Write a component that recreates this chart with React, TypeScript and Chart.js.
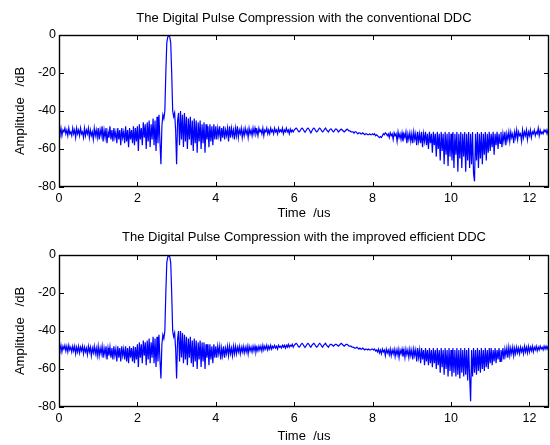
import React, { useEffect, useRef } from "react";
import { Chart, registerables } from "chart.js";

Chart.register(...registerables);

// sampling step of the traces (us)
const DT = 0.025;

const TITLE_TOP = "The Digital Pulse Compression with the conventional DDC";
const TITLE_BOTTOM = "The Digital Pulse Compression with the improved efficient DDC";
const X_LABEL = "Time  /us";
const Y_LABEL = "Amplitude   /dB";
const X_TICKS = [0, 2, 4, 6, 8, 10, 12];
const Y_TICKS = [0, -20, -40, -60, -80];

// amplitude (dB) of the conventional DDC output, one value every 0.025 us from 0 to 12.5 us
const conventional = [
  -50, -52, -49, -53, -50, -51, -49, -52, -50, -53, -49, -52, -51, -53, -49, -52, -50, -54, -49, -52,
  -50, -53, -49, -52, -51, -54, -49, -53, -50, -52, -49, -54, -50, -53, -51, -55, -49, -53, -50, -54,
  -49, -55, -50, -53, -48, -56, -50, -54, -49, -57, -51, -54, -48, -55, -50, -56, -49, -54, -51, -57,
  -49, -55, -50, -58, -49, -54, -51, -57, -48, -56, -50, -59, -49, -55, -50, -57, -48, -58, -49, -56,
  -48, -61, -47, -55, -49, -58, -46, -54, -47, -60, -46, -56, -45, -59, -47, -55, -44, -58, -45, -61,
  -43, -57, -42, -56, -68, -48, -42, -44, -40, -20, -4, -1, 0, -1, -4, -20, -40, -43, -41, -50,
  -68, -45, -41, -58, -40, -55, -42, -59, -41, -56, -43, -60, -44, -55, -43, -58, -45, -61, -44, -57,
  -45, -62, -46, -56, -45, -60, -47, -57, -46, -62, -47, -55, -48, -59, -47, -56, -48, -58, -47, -55,
  -48, -55, -49, -53, -48, -56, -49, -54, -48, -55, -50, -53, -49, -56, -48, -54, -49, -53, -50, -55,
  -49, -53, -48, -54, -50, -52, -49, -54, -50, -53, -49, -52, -50, -54, -49, -52, -50, -53, -49, -52,
  -49, -52, -50, -53, -49, -51, -50, -52, -49, -53, -50, -51, -49, -52, -50, -52, -49, -51, -50, -52,
  -49, -51, -50, -52, -49, -51, -50, -51, -49, -52, -50, -51, -49, -51, -50, -52, -49.5, -51, -50, -51,
  -50, -49.5, -49, -49.5, -50.5, -51, -50.5, -49.5, -49, -49.5, -50.5, -51, -50.5, -49.5, -49, -49.5, -50.5, -51.5, -50.5, -49.5,
  -49, -49.5, -50.5, -51, -50.5, -49.5, -49, -49.5, -50.5, -51, -50.5, -49.5, -49, -50, -50.5, -51, -50, -49.5, -49.5, -50.5,
  -51, -50.5, -49.5, -49.5, -50, -51, -50.5, -50, -49.5, -50, -50.5, -51, -50.5, -50, -49.5, -50, -50.5, -50.5, -51, -51,
  -51, -51.5, -51, -51, -51.5, -52, -51.5, -51.5, -52, -52, -51.5, -52, -52.5, -52, -52, -52.5, -52.5, -52, -52.5, -52.5,
  -52, -52.5, -52, -53, -52.5, -53, -53.5, -54, -53.5, -54, -53, -52, -52.5, -51.5, -52, -53, -52, -54, -51.5, -53,
  -52, -55, -51.5, -53, -52, -56, -51, -54, -52, -55, -51.5, -56, -52, -54, -51, -57, -52, -55, -51.5, -56,
  -52, -57, -51, -55, -52, -58, -51, -56, -52, -57, -51, -59, -52, -56, -51, -58, -52, -60, -51, -57,
  -52, -62, -51, -58, -52, -64, -51, -60, -52, -66, -51, -61, -52, -68, -51, -63, -52, -69, -51, -64,
  -52, -66, -51, -70, -52, -63, -51, -72, -52, -65, -51, -70, -52, -64, -51, -72, -52, -66, -51, -70,
  -52, -68, -51, -73, -77, -52, -66, -51, -70, -52, -65, -51, -68, -52, -63, -51, -66, -52, -62, -51,
  -61, -52, -59, -51, -63, -52, -58, -51, -60, -52, -57, -51, -59, -52, -56, -51, -58, -52, -55, -51,
  -56, -51, -54, -52, -57, -51, -54, -50, -55, -51, -53, -52, -56, -50, -54, -51, -53, -50, -55, -51,
  -53, -50, -54, -51, -52, -50, -53, -51, -52, -49, -53, -50, -52, -51, -52, -50, -51, -50, -52, -50,
  -51,
];

// amplitude (dB) of the improved efficient DDC output, same sampling
const improved = [
  -48, -50, -47.5, -51, -48, -49.5, -47.5, -50.5, -48, -51, -47.5, -50, -48.5, -51, -48, -50.5, -48, -52, -48.5, -51,
  -48, -51.5, -48.5, -50.5, -48, -52, -48.5, -51, -49, -52.5, -48, -51, -48.5, -53, -49, -51.5, -48, -52, -49, -53,
  -48, -53, -49, -52, -48, -54, -49, -52.5, -48, -55, -49, -53, -48.5, -54, -49, -55, -48, -53, -49.5, -56,
  -48, -54, -49, -56, -48, -53, -49.5, -55, -48, -56, -49, -57, -48, -54, -49, -56, -48, -57, -48.5, -55,
  -47, -59, -46, -54, -47, -57, -45, -53, -46, -58, -45, -55, -44, -57, -46, -54, -43, -57, -44, -59,
  -43, -56, -42, -55, -65, -47, -42, -44, -40, -20, -4, -1, 0, -1, -4, -20, -40, -43, -41, -49,
  -65, -44, -40, -56, -40, -54, -41, -57, -42, -55, -43, -58, -44, -54, -43, -57, -45, -59, -44, -56,
  -45, -60, -46, -55, -45, -59, -46, -56, -46, -60, -47, -54, -47, -58, -47, -55, -48, -57, -47, -54,
  -48, -54, -48, -52, -48, -55, -49, -53, -48, -54, -49, -52, -48, -53, -48, -52, -49, -53, -48, -52,
  -48, -52, -48.5, -51, -48, -52, -48.5, -51, -48, -51.5, -48.5, -51, -48, -52, -48, -50.5, -48.5, -51, -48, -50.5,
  -48, -51, -48.5, -50.5, -48, -50, -48, -50.5, -47.5, -50, -48, -49.5, -47.5, -50, -48, -49.5, -47.5, -49.5, -48, -49,
  -47.5, -49, -48, -49.5, -47.5, -48.5, -48, -49, -47.5, -48.5, -47.5, -49, -47.5, -48.5, -47, -48.5, -47.5, -48, -47, -48.5,
  -47.5, -47, -46.5, -47, -48, -48.5, -48, -47, -46.5, -47, -48, -48.5, -48, -47, -46.5, -47, -48, -48.5, -47.5, -47,
  -46.5, -47, -48, -48.5, -48, -47, -46.5, -47, -48, -48.5, -47.5, -47, -46.5, -47.5, -48, -48.5, -47.5, -47, -47, -47.5,
  -48, -47.5, -47, -47, -47.5, -48, -47.5, -47, -46.5, -47, -47.5, -48, -47.5, -47, -47, -47.5, -48, -48, -48, -48.5,
  -48.5, -48.5, -49, -49, -48.5, -49, -49.5, -49, -49.5, -49.5, -49, -49.5, -50, -49.5, -49.5, -50, -49.5, -50, -50, -49.5,
  -49.5, -50, -49.5, -50.5, -50, -51, -49.5, -51.5, -50, -52, -49.5, -51, -50, -53, -49.5, -51.5, -50, -52.5, -49.5, -53,
  -50, -52, -49.5, -53.5, -50, -52.5, -49.5, -54, -50, -52, -49.5, -53.5, -50, -54, -49.5, -52.5, -50, -54, -49.5, -53,
  -50, -55, -49.5, -53, -50, -56, -49, -54, -50, -57, -49, -55, -50, -58, -49, -56, -50, -58, -49, -57,
  -50, -59, -49, -57, -50, -60, -49, -58, -50, -62, -49, -59, -50, -63, -49, -60, -50, -64, -49, -61,
  -50, -64, -49, -62, -50, -64, -49, -63, -50, -65, -49, -62, -50, -64, -49, -63, -50, -66, -49, -64,
  -77, -50, -64, -49, -62, -50, -63, -49, -61, -50, -62, -49, -60, -50, -61, -49, -59, -50, -60, -49,
  -57, -49, -58, -50, -56, -49, -57, -50, -55, -49, -56, -50, -54, -49, -55, -49.5, -53, -49, -54, -48.5,
  -53, -49, -52, -48.5, -53, -49, -52, -48.5, -51.5, -49, -52, -48.5, -51, -49, -52, -48, -51, -48.5, -51.5, -48,
  -51, -48.5, -50.5, -48, -51, -48.5, -50, -48, -50.5, -48.5, -50, -48, -49.5, -48.5, -50, -48, -49.5, -48, -49.5, -48,
  -48,
];

const FONT = "'Liberation Sans', Arial, Helvetica, sans-serif";

const boxTicks = {
  id: "boxTicks",
  afterDatasetsDraw(chart: any, _args: any, opts: any) {
    const { ctx, chartArea: a, scales } = chart;
    const L = 5;
    ctx.save();
    ctx.strokeStyle = "#000";
    ctx.lineWidth = 1;
    ctx.beginPath();
    scales.x.ticks.forEach((t: any) => {
      const px = Math.round(scales.x.getPixelForValue(t.value)) + 0.5;
      ctx.moveTo(px, a.bottom);
      ctx.lineTo(px, a.bottom - L);
      ctx.moveTo(px, a.top);
      ctx.lineTo(px, a.top + L);
    });
    scales.y.ticks.forEach((t: any) => {
      const py = Math.round(scales.y.getPixelForValue(t.value)) + 0.5;
      ctx.moveTo(a.left, py);
      ctx.lineTo(a.left + L, py);
      ctx.moveTo(a.right, py);
      ctx.lineTo(a.right - L, py);
    });
    ctx.stroke();
    ctx.lineWidth = 1.4;
    ctx.strokeRect(a.left + 0.5, a.top + 0.5, a.right - a.left - 1, a.bottom - a.top - 1);
    // panel title centred over the axes box
    ctx.fillStyle = "#000";
    ctx.font = `13px ${FONT}`;
    ctx.textAlign = "center";
    ctx.textBaseline = "middle";
    ctx.fillText(opts.text, (a.left + a.right) / 2, opts.y);
    ctx.restore();
  },
};

type PanelProps = {
  values: number[];
  title: string;
  height: number;
  titleY: number;
  areaTop: number;
  xAxisHeight: number;
};

function Panel({ values, title, height, titleY, areaTop, xAxisHeight }: PanelProps) {
  const ref = useRef<HTMLCanvasElement | null>(null);
  useEffect(() => {
    if (!ref.current) return;
    const points = values.map((v, i) => ({ x: i * DT, y: v }));
    const chart = new Chart(ref.current, {
      type: "line",
      data: {
        datasets: [
          {
            data: points,
            borderColor: "#0000ff",
            borderWidth: 1.2,
            pointRadius: 0,
            tension: 0,
            fill: false,
          },
        ],
      },
      options: {
        animation: false,
        responsive: false,
        layout: { padding: { left: 0, right: 1, top: areaTop, bottom: 0 } },
        plugins: {
          legend: { display: false },
          tooltip: { enabled: false },
          title: { display: false },
          boxTicks: { text: title, y: titleY },
        },
        scales: {
          x: {
            type: "linear",
            min: 0,
            max: 12.5,
            grid: { display: false, drawTicks: false },
            border: { display: false },
            afterBuildTicks: (scale: any) => {
              scale.ticks = X_TICKS.map((v) => ({ value: v }));
            },
            afterFit: (scale: any) => {
              scale.height = xAxisHeight;
            },
            ticks: {
              color: "#000",
              padding: 4,
              maxRotation: 0,
              font: { family: FONT, size: 12.5 },
            },
            title: {
              display: true,
              text: X_LABEL,
              color: "#000",
              font: { family: FONT, size: 13 },
              padding: { top: 0, bottom: 1 },
            },
          },
          y: {
            type: "linear",
            min: -80,
            max: 0,
            grid: { display: false, drawTicks: false },
            border: { display: false },
            afterBuildTicks: (scale: any) => {
              scale.ticks = Y_TICKS.map((v) => ({ value: v }));
            },
            afterFit: (scale: any) => {
              scale.width = 59;
            },
            ticks: {
              color: "#000",
              padding: 3,
              font: { family: FONT, size: 12.5 },
            },
            title: {
              display: true,
              text: Y_LABEL,
              color: "#000",
              font: { family: FONT, size: 13 },
              padding: { top: 13, bottom: 0 },
            },
          },
        },
      },
      plugins: [boxTicks],
    } as any);
    return () => chart.destroy();
  }, [values, title, height, titleY, areaTop, xAxisHeight]);
  return <canvas ref={ref} width={550} height={height} style={{ display: "block" }} />;
}

export default function App() {
  return (
    <div style={{ position: "fixed", left: 0, top: 0, width: 550, height: 445, background: "#fff" }}>
      <Panel values={conventional} title={TITLE_TOP} height={222} titleY={18} areaTop={35} xAxisHeight={35} />
      <Panel values={improved} title={TITLE_BOTTOM} height={223} titleY={15} areaTop={33} xAxisHeight={38} />
    </div>
  );
}
